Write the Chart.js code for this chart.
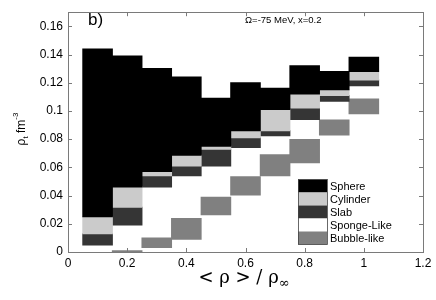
<!DOCTYPE html>
<html>
<head>
<meta charset="utf-8">
<script src="https://cdn.jsdelivr.net/npm/chart.js@4"></script>
<style>
  body { margin: 0; background: white; }
  #wrap { width: 436px; height: 300px; }
</style>
</head>
<body>
<div id="wrap"><canvas id="phaseChart" width="436" height="300"></canvas></div>
<script>
// <rho>/rho_inf bin centres
const xCenters = [0.1, 0.2, 0.3, 0.4, 0.5, 0.6, 0.7, 0.8, 0.9, 1.0]

// rho_t ranges (fm^-3) of each phase, lower and upper edge per bin
const sphereLo   = [0.025, 0.046, 0.057, 0.0685, 0.075, 0.086, 0.101, 0.112, 0.115, 0.128]
const sphereHi   = [0.144, 0.139, 0.130, 0.124, 0.109, 0.120, 0.116, 0.132, 0.128, 0.138]
const cylinderLo = [0.013, 0.0317, 0.054, 0.061, 0.0728, 0.081, 0.086, 0.102, 0.111, 0.122]
const cylinderHi = [0.025, 0.046, 0.057, 0.0685, 0.075, 0.086, 0.101, 0.112, 0.115, 0.128]
const slabLo     = [0.005, 0.0192, 0.046, 0.054, 0.061, 0.074, 0.0824, 0.094, 0.1068, 0.1178]
const slabHi     = [0.013, 0.0317, 0.054, 0.061, 0.0728, 0.081, 0.086, 0.102, 0.111, 0.122]
const spongeLo   = [0, 0.0008, 0.010, 0.0237, 0.0388, 0.0534, 0.0689, 0.0797, 0.0936, 0.1084]
const spongeHi   = [0.005, 0.0192, 0.046, 0.054, 0.061, 0.074, 0.0824, 0.094, 0.1068, 0.1178]
const bubbleLo   = [null, 0, 0.0032, 0.0091, 0.0264, 0.0404, 0.0541, 0.0632, 0.083, 0.098]
const bubbleHi   = [null, 0.0008, 0.010, 0.0237, 0.0388, 0.0534, 0.0689, 0.0797, 0.0936, 0.1084]

const phaseNames  = ["Sphere", "Cylinder", "Slab", "Sponge-Like", "Bubble-like"]
const phaseColors = ["#000000", "#cbcbcb", "#353535", "#ffffff", "#808080"]

const xTicks = [0, 0.2, 0.4, 0.6, 0.8, 1, 1.2]
const xTickLabels = ["0", "0.2", "0.4", "0.6", "0.8", "1", "1.2"]
const yTicks = [0, 0.02, 0.04, 0.06, 0.08, 0.1, 0.12, 0.14, 0.16]
const yTickLabels = ["0", "0.02", "0.04", "0.06", "0.08", "0.1", "0.12", "0.14", "0.16"]

const panelLabel = "b)"
const noteText = "\u03A9=-75 MeV, x=0.2"

function ranges(lo, hi){
    var out = []
    for (var i in xCenters){
        if (lo[i] == null) continue
        out.push({ x: xCenters[i], y: [lo[i], hi[i]] })
    }
    return out
}

const allRanges = [
    ranges(sphereLo, sphereHi),
    ranges(cylinderLo, cylinderHi),
    ranges(slabLo, slabHi),
    ranges(spongeLo, spongeHi),
    ranges(bubbleLo, bubbleHi)
]

const datasets = phaseNames.map((name, i) => ({
    label: name,
    data: allRanges[i],
    backgroundColor: phaseColors[i],
    borderWidth: 0,
    inflateAmount: 0.5,
    grouped: false,
    // white sponge patches go underneath everything else
    order: name == "Sponge-Like" ? 1 : 0,
    barPercentage: 1,
    categoryPercentage: 1
}))

const FONT = "'Liberation Sans', Arial, sans-serif"

// matlab style frame, inward ticks, texts, legend
const matlabFrame = {
    id: "matlabFrame",
    afterDraw(chart){
        const ctx = chart.ctx
        const a = chart.chartArea
        const xs = chart.scales.x
        const ys = chart.scales.y
        ctx.save()
        ctx.strokeStyle = "#7a7a7a"
        ctx.lineWidth = 1
        ctx.strokeRect(Math.round(a.left) + 0.5, Math.round(a.top) + 0.5,
                       Math.round(a.right - a.left), Math.round(a.bottom - a.top))
        ctx.beginPath()
        const tl = 4
        xTicks.forEach(v => {
            const px = Math.round(xs.getPixelForValue(v)) + 0.5
            ctx.moveTo(px, a.bottom); ctx.lineTo(px, a.bottom - tl)
            ctx.moveTo(px, a.top); ctx.lineTo(px, a.top + tl)
        })
        yTicks.forEach(v => {
            const py = Math.round(ys.getPixelForValue(v)) + 0.5
            ctx.moveTo(a.left, py); ctx.lineTo(a.left + tl, py)
            ctx.moveTo(a.right, py); ctx.lineTo(a.right - tl, py)
        })
        ctx.stroke()

        // panel texts
        ctx.fillStyle = "#000"
        ctx.textBaseline = "middle"
        ctx.textAlign = "left"
        ctx.font = "17px " + FONT
        ctx.fillText(panelLabel, 88, 20)
        ctx.font = "9.5px " + FONT
        ctx.fillText(noteText, 245, 20)

        // legend
        const lx = 298, ly = 179.5, lw = 29, lh = 13
        ctx.font = "11px " + FONT
        chart.data.datasets.forEach((ds, i) => {
            const y = ly + i * lh
            ctx.fillStyle = ds.backgroundColor
            ctx.fillRect(lx, y, lw, lh)
            ctx.fillStyle = "#000"
            ctx.fillText(ds.label, lx + 32, y + lh / 2 + 0.5)
        })
        ctx.strokeStyle = "#444"
        ctx.lineWidth = 0.8
        ctx.strokeRect(lx + 0.5, ly, lw, lh * phaseNames.length)

        // x axis title  < rho > / rho_inf
        ctx.textAlign = "left"
        ctx.textBaseline = "alphabetic"
        ctx.font = "18px 'DejaVu Serif', serif"
        const main = "< \u03C1 > / \u03C1"
        const mw = ctx.measureText(main).width
        ctx.font = "13px 'DejaVu Serif', serif"
        const sw = ctx.measureText("\u221E").width
        const x0 = 244 - (mw + sw) / 2
        ctx.font = "18px 'DejaVu Serif', serif"
        ctx.fillText(main, x0, 283)
        ctx.font = "13px 'DejaVu Serif', serif"
        ctx.fillText("\u221E", x0 + mw, 287)

        // y axis title  rho_t fm^-3
        ctx.translate(25, 129)
        ctx.rotate(-Math.PI / 2)
        ctx.font = "12px " + FONT
        const p1 = "\u03C1"
        const w1 = ctx.measureText(p1).width
        ctx.font = "8px " + FONT
        const w2 = ctx.measureText("t").width
        ctx.font = "12px " + FONT
        const w3 = ctx.measureText(" fm").width
        ctx.font = "8px " + FONT
        const w4 = ctx.measureText("-3").width
        let cx = -(w1 + w2 + w3 + w4) / 2
        ctx.font = "12px " + FONT
        ctx.fillText(p1, cx, 0); cx += w1
        ctx.font = "8px " + FONT
        ctx.fillText("t", cx, 3); cx += w2
        ctx.font = "12px " + FONT
        ctx.fillText(" fm", cx, 0); cx += w3
        ctx.font = "8px " + FONT
        ctx.fillText("-3", cx, -7)
        ctx.restore()
    }
}

const ctx = document.getElementById("phaseChart").getContext("2d")
const chart = new Chart(ctx, {
    type: "bar",
    data: { datasets: datasets },
    options: {
        responsive: false,
        animation: false,
        layout: { padding: { left: 0, right: 13, top: 5, bottom: 0 } },
        scales: {
            x: {
                type: "linear",
                min: 0,
                max: 1.2,
                offset: false,
                grid: { display: false, drawTicks: false },
                border: { display: false },
                afterBuildTicks: s => { s.ticks = xTicks.map(v => ({ value: v })) },
                afterFit: s => { s.height = 48 },
                ticks: {
                    padding: 4,
                    color: "#000",
                    font: { family: FONT, size: 12 },
                    maxRotation: 0,
                    callback: (v) => xTickLabels[xTicks.indexOf(v)]
                }
            },
            y: {
                min: 0,
                max: 0.17,
                grid: { display: false, drawTicks: false },
                border: { display: false },
                afterBuildTicks: s => { s.ticks = yTicks.map(v => ({ value: v })) },
                afterFit: s => { s.width = 68 },
                ticks: {
                    padding: 5,
                    color: "#000",
                    font: { family: FONT, size: 12 },
                    callback: (v) => yTickLabels[yTicks.indexOf(v)]
                }
            }
        },
        plugins: {
            legend: { display: false },
            tooltip: { enabled: false }
        }
    },
    plugins: [matlabFrame]
})
</script>
</body>
</html>
